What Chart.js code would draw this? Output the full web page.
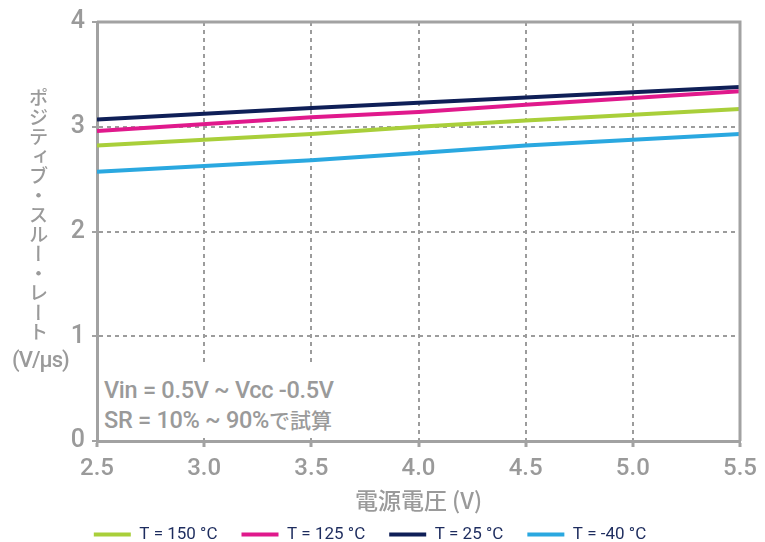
<!DOCTYPE html>
<html>
<head>
<meta charset="utf-8">
<script src="https://cdn.jsdelivr.net/npm/chart.js@4.4.1/dist/chart.umd.min.js"></script>
<style>
  html, body { margin: 0; padding: 0; background: #fff; }
  #wrap { position: relative; width: 765px; height: 542px; overflow: hidden; }
  #chart { position: absolute; left: 0; top: 0; }
  .ytitle {
    position: absolute; left: 28px; top: 88px;
    writing-mode: vertical-rl; text-orientation: upright;
    font-family: 'Noto Sans CJK JP', sans-serif; font-size: 19.5px; font-weight: 500; line-height: 20px;
    color: #9a9a9a; white-space: nowrap;
  }
  .yunit {
    position: absolute; left: 12px; top: 347px;
    font-family: 'Roboto', sans-serif; font-size: 22px; font-weight: 500; letter-spacing: -1px;
    color: #9a9a9a; white-space: nowrap;
  }
  .note {
    position: absolute; left: 99px; top: 366px; width: 255px; height: 72px;
    background: #fff; padding-left: 5px; box-sizing: border-box;
    font-family: 'Roboto', sans-serif; font-size: 23.5px; font-weight: 500; line-height: 29px;
    letter-spacing: -0.3px;
    color: #9a9a9a; white-space: nowrap; padding-top: 10px;
  }
  .note .jp { font-family: 'Noto Sans CJK JP', sans-serif; font-size: 21px; letter-spacing: 0; }
</style>
</head>
<body>
<div id="wrap">
  <canvas id="chart" width="765" height="542"></canvas>
  <div class="ytitle">ポジティブ・スルー・レート</div>
  <div class="yunit">(V/μs)</div>
  <div class="note">Vin = 0.5V ~ Vcc -0.5V<br>SR = 10% ~ 90%<span class="jp">で試算</span></div>
</div>
<script>
// Supply voltage (V) at which each curve was read
const supplyVoltage = [2.5, 3.5, 4.0, 4.5, 5.5];

// Positive slew rate (V/µs) per temperature
const slew150 = [2.82, 2.93, 3.00, 3.06, 3.17];
const slew125 = [2.96, 3.09, 3.14, 3.21, 3.34];
const slew25  = [3.07, 3.18, 3.23, 3.28, 3.38];
const slewM40 = [2.57, 2.68, 2.75, 2.82, 2.93];

const seriesLabels = ['T = 150 °C', 'T = 125 °C', 'T = 25 °C', 'T = -40 °C'];
const seriesColors = ['#a9cf3a', '#e0198c', '#0f1f57', '#2aa8e0'];

const xTicks = [2.5, 3.0, 3.5, 4.0, 4.5, 5.0, 5.5];
const yTicks = [0, 1, 2, 3, 4];

const axisGray = '#a2a2a2';
const gridGray = '#9c9c9c';
const labelFont = "'Roboto', sans-serif";

const seriesValues = [slew150, slew125, slew25, slewM40];
const datasets = seriesValues.map((vals, i) => ({
  label: seriesLabels[i],
  data: supplyVoltage.map((v, k) => ({ x: v, y: vals[k] })),
  borderColor: seriesColors[i],
  backgroundColor: seriesColors[i],
  borderWidth: 4,
  pointRadius: 0,
  tension: 0,
  fill: false
}));

// Solid frame on the top and right edges of the plot area
const frameEdges = {
  id: 'frameEdges',
  afterDatasetsDraw(chart) {
    const { ctx, chartArea: a } = chart;
    ctx.save();
    ctx.strokeStyle = axisGray;
    ctx.lineWidth = 3;
    ctx.beginPath();
    ctx.moveTo(a.left, a.top);
    ctx.lineTo(a.right, a.top);
    ctx.lineTo(a.right, a.bottom);
    ctx.stroke();
    ctx.restore();
  }
};

const edgeless = (ticks) => (ctx) =>
  (ctx.tick && (ctx.tick.value === ticks[0] || ctx.tick.value === ticks[ticks.length - 1]))
    ? 'rgba(0,0,0,0)' : gridGray;

new Chart(document.getElementById('chart'), {
  type: 'line',
  data: { datasets },
  plugins: [frameEdges],
  options: {
    responsive: false,
    animation: false,
    layout: { padding: { left: 0, right: 25, top: 21, bottom: -11 } },
    plugins: {
      tooltip: { enabled: false },
      legend: {
        position: 'bottom',
        labels: {
          boxWidth: 37,
          boxHeight: 4,
          padding: 24,
          color: '#1d2c5e',
          font: { family: labelFont, size: 17 },
          generateLabels(chart) {
            return chart.data.datasets.map((ds, i) => ({
              text: ds.label,
              fillStyle: ds.borderColor,
              strokeStyle: ds.borderColor,
              lineWidth: 0,
              fontColor: '#1d2c5e',
              datasetIndex: i
            }));
          }
        }
      }
    },
    scales: {
      x: {
        type: 'linear',
        min: xTicks[0],
        max: xTicks[xTicks.length - 1],
        afterBuildTicks(scale) { scale.ticks = xTicks.map(v => ({ value: v })); },
        ticks: {
          color: '#9a9a9a',
          font: { family: labelFont, size: 24, weight: '500' },
          padding: 8,
          callback: v => Number(v).toFixed(1)
        },
        grid: {
          color: edgeless(xTicks),
          lineWidth: 2,
          tickColor: axisGray,
          tickLength: 6,
          tickWidth: 3
        },
        border: { display: true, color: axisGray, width: 3, dash: [4, 4] },
        title: {
          display: true,
          text: '電源電圧 (V)',
          color: '#9a9a9a',
          font: { family: "'Noto Sans CJK JP', sans-serif", size: 23, weight: '500' },
          padding: { top: 0, bottom: -12 }
        },
        afterFit(scale) { scale.height = 61; }
      },
      y: {
        min: yTicks[0],
        max: yTicks[yTicks.length - 1],
        afterBuildTicks(scale) { scale.ticks = yTicks.map(v => ({ value: v })); },
        ticks: {
          color: '#9a9a9a',
          font: { family: labelFont, size: 25, weight: '500' },
          padding: 7
        },
        grid: {
          color: edgeless(yTicks),
          lineWidth: 2,
          tickColor: axisGray,
          tickLength: 5,
          tickWidth: 2
        },
        border: { display: true, color: axisGray, width: 3, dash: [4, 4] },
        afterFit(scale) { scale.width = 97; }
      }
    }
  }
});
</script>
</body>
</html>
